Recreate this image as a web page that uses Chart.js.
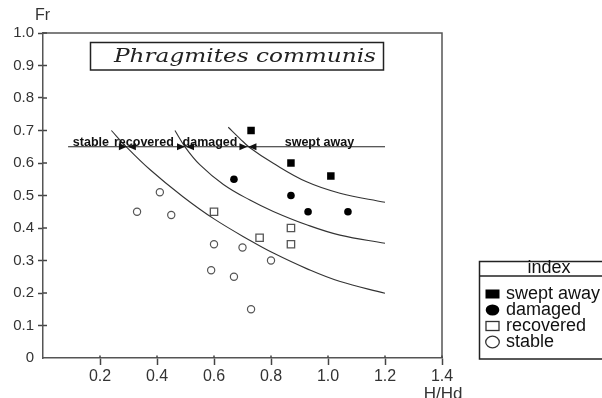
<!DOCTYPE html>
<html><head><meta charset="utf-8">
<script src="https://cdn.jsdelivr.net/npm/chart.js@4/dist/chart.umd.min.js"></script>
<style>html,body{margin:0;padding:0;background:#fff;}#wrap{width:602px;height:398px;}</style>
</head><body><div id="wrap"><canvas id="c" width="602" height="398"></canvas></div>
<script>
// ---- data ----
const xTickValues = [0.2, 0.4, 0.6, 0.8, 1.0, 1.2, 1.4];
const yTickValues = [0, 0.1, 0.2, 0.3, 0.4, 0.5, 0.6, 0.7, 0.8, 0.9, 1.0];
const categories = ['swept away', 'damaged', 'recovered', 'stable'];
const sweptAway = [{x:0.73,y:0.70},{x:0.87,y:0.60},{x:1.01,y:0.56}];
const damaged = [{x:0.67,y:0.55},{x:0.87,y:0.50},{x:0.93,y:0.45},{x:1.07,y:0.45}];
const recovered = [{x:0.60,y:0.45},{x:0.76,y:0.37},{x:0.87,y:0.40},{x:0.87,y:0.35}];
const stable = [{x:0.33,y:0.45},{x:0.41,y:0.51},{x:0.45,y:0.44},{x:0.60,y:0.35},{x:0.70,y:0.34},{x:0.80,y:0.30},{x:0.59,y:0.27},{x:0.67,y:0.25},{x:0.73,y:0.15}];
const curveLower = [{x:0.24,y:0.70},{x:0.29,y:0.652},{x:0.375,y:0.58},{x:0.49,y:0.497},{x:0.60,y:0.428},{x:0.73,y:0.36},{x:0.81,y:0.322},{x:0.925,y:0.275},{x:1.04,y:0.236},{x:1.2,y:0.199}];
const curveMiddle = [{x:0.463,y:0.70},{x:0.498,y:0.65},{x:0.551,y:0.594},{x:0.633,y:0.534},{x:0.726,y:0.486},{x:0.808,y:0.451},{x:0.925,y:0.410},{x:1.042,y:0.378},{x:1.2,y:0.353}];
const curveUpper = [{x:0.65,y:0.71},{x:0.69,y:0.676},{x:0.726,y:0.647},{x:0.808,y:0.599},{x:0.925,y:0.542},{x:1.042,y:0.507},{x:1.2,y:0.479}];
const arrowLine = [{x:0.088,y:0.65},{x:1.2,y:0.65}];
const arrowMeetX = [0.296, 0.50, 0.719];
const zoneLabels = ['stable', 'recovered', 'damaged', 'swept away'];
const zoneLabelX = [0.168, 0.354, 0.586, 0.970];
const zoneLabelY = 0.655;
const speciesTitle = 'Phragmites communis';
const legendTitle = 'index';
const xTitle = 'H/Hd';
const yTitle = 'Fr';

const INK = '#222';
const AXIS = '#555';

const curveStyle = {type:'line', showLine:true, pointRadius:0, borderColor:'#333', borderWidth:1.1, tension:0.4, fill:false};

const decor = {
  id: 'decor',
  afterDatasetsDraw(chart) {
    const ctx = chart.ctx, a = chart.chartArea;
    const xs = chart.scales.x, ys = chart.scales.y;
    ctx.save();
    ctx.strokeStyle = AXIS; ctx.lineWidth = 1.5;
    ctx.beginPath();
    ctx.moveTo(a.left, a.top); ctx.lineTo(a.right, a.top); ctx.lineTo(a.right, a.bottom);
    ctx.stroke();
    ctx.lineWidth = 1.5; ctx.strokeStyle = '#444';
    yTickValues.forEach(v => { if (v === 0) return; const py = ys.getPixelForValue(v);
      ctx.beginPath(); ctx.moveTo(a.left, py); ctx.lineTo(a.left + 4, py); ctx.stroke(); });
    xTickValues.forEach(v => { const px = xs.getPixelForValue(v);
      ctx.beginPath(); ctx.moveTo(px, a.bottom); ctx.lineTo(px, a.bottom - 2.5); ctx.stroke(); });
    const ay = ys.getPixelForValue(arrowLine[0].y);
    ctx.fillStyle = '#111';
    arrowMeetX.forEach(v => {
      const px = xs.getPixelForValue(v);
      ctx.beginPath(); ctx.moveTo(px - 0.5, ay); ctx.lineTo(px - 8.5, ay - 3.5); ctx.lineTo(px - 8.5, ay + 3.5); ctx.closePath(); ctx.fill();
      ctx.beginPath(); ctx.moveTo(px + 0.5, ay); ctx.lineTo(px + 8.5, ay - 3.5); ctx.lineTo(px + 8.5, ay + 3.5); ctx.closePath(); ctx.fill();
    });
    ctx.font = 'bold 12.5px "Liberation Sans"';
    ctx.fillStyle = '#111'; ctx.textAlign = 'center'; ctx.textBaseline = 'alphabetic';
    zoneLabels.forEach((t, i) => ctx.fillText(t, xs.getPixelForValue(zoneLabelX[i]), ys.getPixelForValue(zoneLabelY) + 0.5));
    ctx.strokeStyle = INK; ctx.lineWidth = 1.5;
    ctx.strokeRect(90.5, 42.5, 293, 27.5);
    ctx.font = 'italic 18px "DejaVu Serif"';
    ctx.fillStyle = '#222'; ctx.textAlign = 'left';
    const w = ctx.measureText(speciesTitle).width;
    const sx = 262 / w;
    ctx.save(); ctx.translate(114, 61.5); ctx.scale(sx, 1); ctx.fillText(speciesTitle, 0, 0); ctx.restore();
    ctx.font = '16px "Liberation Sans"'; ctx.fillStyle = '#333';
    ctx.textAlign = 'left'; ctx.fillText(yTitle, 35, 20);
    ctx.font = '17px "Liberation Sans"'; ctx.textAlign = 'center'; ctx.textBaseline = 'top';
    ctx.fillText(xTitle, 443, 386);
    ctx.strokeStyle = INK; ctx.lineWidth = 1.5;
    ctx.strokeRect(479.5, 261.5, 140, 97.5);
    ctx.beginPath(); ctx.moveTo(479.5, 276); ctx.lineTo(602, 276); ctx.stroke();
    ctx.font = '18px "Liberation Sans"'; ctx.fillStyle = '#111';
    ctx.textAlign = 'center'; ctx.textBaseline = 'middle';
    ctx.fillText(legendTitle, 549, 268.5);
    const rowsY = [294, 310, 326, 342];
    ctx.textAlign = 'left';
    categories.forEach((t, i) => {
      const cy = rowsY[i], cx = 492.5;
      ctx.lineWidth = 1.3; ctx.strokeStyle = '#333'; ctx.fillStyle = '#000';
      if (i === 0) { ctx.fillRect(cx - 7, cy - 4.5, 14, 9); }
      else if (i === 1) { ctx.beginPath(); ctx.ellipse(cx, cy, 6.8, 5.5, 0, 0, Math.PI*2); ctx.fill(); }
      else if (i === 2) { ctx.strokeRect(cx - 6.5, cy - 4.5, 13, 9); }
      else { ctx.beginPath(); ctx.ellipse(cx, cy, 6.8, 5.8, 0, 0, Math.PI*2); ctx.stroke(); }
      ctx.fillStyle = '#111';
      ctx.fillText(t, 506, cy + 0.5);
    });
    ctx.restore();
  }
};

new Chart(document.getElementById('c'), {
  type: 'scatter',
  data: {
    datasets: [
      Object.assign({label:'arrow', data: arrowLine}, curveStyle, {borderColor:'#222', borderWidth:1.2, tension:0}),
      Object.assign({label:'lower', data: curveLower}, curveStyle),
      Object.assign({label:'middle', data: curveMiddle}, curveStyle),
      Object.assign({label:'upper', data: curveUpper}, curveStyle),
      {label: categories[0], data: sweptAway, pointStyle:'rect', pointRadius:5.3, backgroundColor:'#000', borderColor:'#000', borderWidth:0},
      {label: categories[1], data: damaged, pointStyle:'circle', pointRadius:3.8, backgroundColor:'#000', borderColor:'#000', borderWidth:0},
      {label: categories[2], data: recovered, pointStyle:'rect', pointRadius:5.2, backgroundColor:'#fff', borderColor:'#555', borderWidth:1.3},
      {label: categories[3], data: stable, pointStyle:'circle', pointRadius:3.6, backgroundColor:'#fff', borderColor:'#555', borderWidth:1.2}
    ]
  },
  options: {
    responsive: false, animation: false, devicePixelRatio: 1,
    layout: {padding: {left: 0, top: 33, right: 160, bottom: 0}},
    plugins: {legend: {display: false}, tooltip: {enabled: false}},
    scales: {
      x: {
        type: 'linear', min: 0, max: 1.4,
        afterFit: s => { s.height = 40; },
        afterBuildTicks: s => { s.ticks = [0].concat(xTickValues).map(v => ({value: v})); },
        ticks: {callback: v => v === 0 ? '' : v.toFixed(1), font: {size: 16, family: 'Liberation Sans'}, color: '#333', padding: 2, maxRotation: 0, autoSkip: false},
        grid: {drawOnChartArea: false, tickLength: 7, tickWidth: 1.5, tickColor: c => (c.tick && c.tick.value === 0) ? 'rgba(0,0,0,0)' : '#444'},
        border: {color: AXIS, width: 1.5}
      },
      y: {
        type: 'linear', min: 0, max: 1,
        afterFit: s => { s.width = 43; },
        afterBuildTicks: s => { s.ticks = yTickValues.map(v => ({value: v})); },
        ticks: {callback: v => v === 0 ? '0' : v.toFixed(1), font: {size: 15, family: 'Liberation Sans'}, color: '#333', padding: 4, autoSkip: false},
        grid: {drawOnChartArea: false, tickLength: 5, tickWidth: 1.5, tickColor: c => (c.tick && c.tick.value === 0) ? 'rgba(0,0,0,0)' : '#444'},
        border: {color: AXIS, width: 1.5}
      }
    }
  },
  plugins: [decor]
});
</script></body></html>
